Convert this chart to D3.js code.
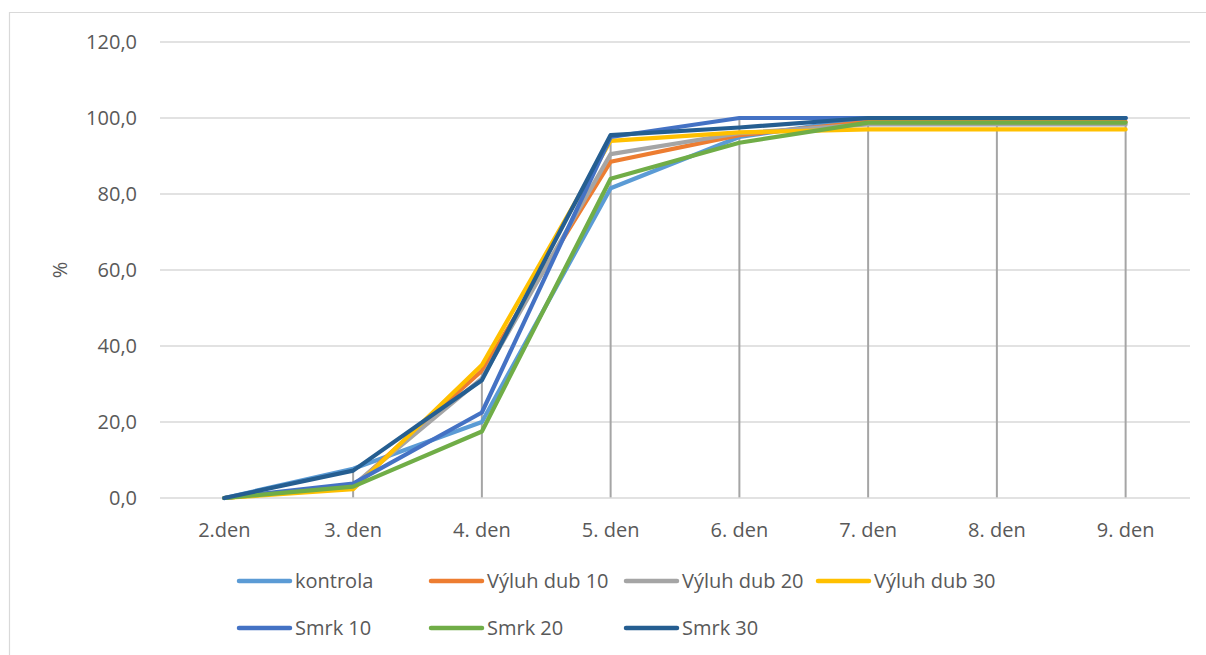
<!DOCTYPE html>
<html>
<head>
<meta charset="utf-8">
<script src="https://cdn.jsdelivr.net/npm/d3@7"></script>
<style>
  html, body { margin: 0; padding: 0; background: #fff; }
  svg { display: block; }
  text { font-family: "Open Sans", "Noto Sans", sans-serif; fill: #595959; }
</style>
</head>
<body>
<svg id="chart" width="1206" height="655"></svg>
<script>
const categories = ["2.den", "3. den", "4. den", "5. den", "6. den", "7. den", "8. den", "9. den"];
const seriesNames = ["kontrola", "Výluh dub 10", "Výluh dub 20", "Výluh dub 30", "Smrk 10", "Smrk 20", "Smrk 30"];
const seriesColors = ["#5B9BD5", "#ED7D31", "#A5A5A5", "#FFC000", "#4472C4", "#70AD47", "#255E91"];
const kontrola   = [0, 7.7, 20.0, 81.5, 95.0, 100, 100, 100];
const vyluhDub10 = [0, 3.0, 33.5, 88.5, 95.5, 99.0, 99.0, 99.0];
const vyluhDub20 = [0, 3.3, 31.5, 90.5, 96.0, 98.3, 98.3, 98.3];
const vyluhDub30 = [0, 2.3, 35.0, 94.0, 96.2, 97.0, 97.0, 97.0];
const smrk10     = [0, 3.8, 22.5, 95.0, 100, 100, 100, 100];
const smrk20     = [0, 3.0, 17.5, 84.0, 93.5, 98.8, 98.8, 98.8];
const smrk30     = [0, 7.2, 31.0, 95.5, 97.5, 100, 100, 100];
const yTicks = [0, 20, 40, 60, 80, 100, 120];
const yTitle = "%";

const seriesValues = [kontrola, vyluhDub10, vyluhDub20, vyluhDub30, smrk10, smrk20, smrk30];

const svg = d3.select("#chart");
const plot = { left: 160, right: 1190, top: 42, bottom: 498 };

// Chart outer border
svg.append("path")
  .attr("d", `M9.5,660 V12.5 H1210`)
  .attr("fill", "none").attr("stroke", "#d9d9d9").attr("stroke-width", 1.2);

const x = d3.scaleBand().domain(categories).range([plot.left, plot.right]);
const xc = c => x(c) + x.bandwidth() / 2;
const y = d3.scaleLinear().domain([0, 120]).range([plot.bottom, plot.top]);

// Horizontal gridlines
svg.append("g").selectAll("line").data(yTicks.filter(t => t > 0)).join("line")
  .attr("x1", plot.left).attr("x2", plot.right)
  .attr("y1", d => y(d)).attr("y2", d => y(d))
  .attr("stroke", "#d9d9d9").attr("stroke-width", 1.5);

// Y axis labels
const yAxis = d3.axisLeft(y).tickValues(yTicks).tickSize(0).tickPadding(0)
  .tickFormat(d => d3.format(".1f")(d).replace(".", ","));
const yg = svg.append("g").attr("transform", `translate(${plot.left - 23},0)`).call(yAxis);
yg.select(".domain").remove();
yg.selectAll("text").attr("font-size", 20).style("font-family", "'Open Sans', sans-serif").attr("fill", "#595959");

// Y title
svg.append("text")
  .attr("transform", `translate(67,${(plot.top + plot.bottom) / 2}) rotate(-90)`)
  .attr("text-anchor", "middle").attr("font-size", 20).text(yTitle);

// Drop lines (from axis to max value per category)
svg.append("g").selectAll("line").data(categories).join("line")
  .attr("x1", d => xc(d)).attr("x2", d => xc(d))
  .attr("y1", y(0))
  .attr("y2", (d, i) => y(d3.max(seriesValues, s => s[i])))
  .attr("stroke", "#a5a5a5").attr("stroke-width", 2);

// X axis line
svg.append("line")
  .attr("x1", plot.left).attr("x2", plot.right)
  .attr("y1", y(0)).attr("y2", y(0))
  .attr("stroke", "#d9d9d9").attr("stroke-width", 1.5);

// X axis labels
const xAxis = d3.axisBottom(x).tickSize(0).tickPadding(0);
const xg = svg.append("g").attr("transform", `translate(0,${plot.bottom + 32})`).call(xAxis);
xg.select(".domain").remove();
xg.selectAll("text").attr("font-size", 20).attr("dy", "0.35em").attr("y", 0)
  .style("font-family", "'Open Sans', sans-serif").attr("fill", "#595959");

// Series lines
const line = d3.line().x((d, i) => xc(categories[i])).y(d => y(d));
svg.append("g").selectAll("path").data(seriesValues).join("path")
  .attr("d", d => line(d))
  .attr("fill", "none")
  .attr("stroke", (d, i) => seriesColors[i])
  .attr("stroke-width", 4.2)
  .attr("stroke-linejoin", "round")
  .attr("stroke-linecap", "round");

// Legend
const legendCols = [237, 429, 624, 816];
const legendRows = [581, 628];
const legend = svg.append("g");
seriesNames.forEach((name, i) => {
  const row = i < 4 ? 0 : 1;
  const col = i < 4 ? i : i - 4;
  const lx = legendCols[col], ly = legendRows[row];
  legend.append("line")
    .attr("x1", lx + 2).attr("x2", lx + 53)
    .attr("y1", ly).attr("y2", ly)
    .attr("stroke", seriesColors[i]).attr("stroke-width", 4.5)
    .attr("stroke-linecap", "round");
  legend.append("text")
    .attr("x", lx + 58).attr("y", ly).attr("dy", "0.35em")
    .attr("font-size", 20).text(name);
});
</script>
</body>
</html>
